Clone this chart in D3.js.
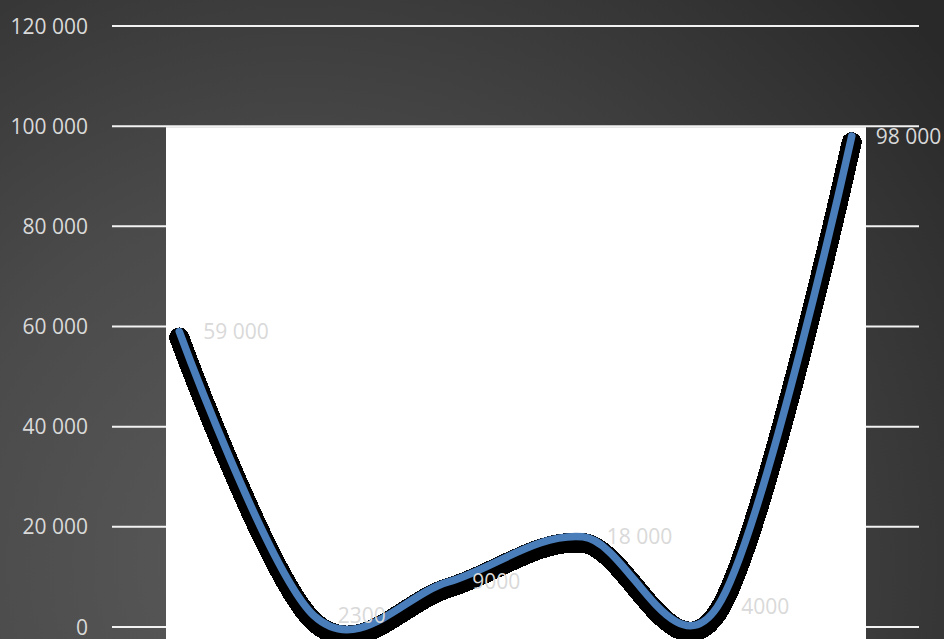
<!DOCTYPE html>
<html>
<head>
<meta charset="utf-8">
<script src="https://cdn.jsdelivr.net/npm/d3@7"></script>
<style>
  html, body { margin: 0; padding: 0; background: #333; }
  svg { display: block; }
</style>
</head>
<body>
<svg id="chart" width="944" height="639"></svg>
<script>
// ---- data ----
const categories = ["1", "2", "3", "4", "5", "6"];
const values = [59000, 2300, 9000, 18000, 4000, 98000];
const valueLabels = ["59 000", "2300", "9000", "18 000", "4000", "98 000"];
const yTicks = [0, 20000, 40000, 60000, 80000, 100000, 120000];
const yTickLabels = ["0", "20 000", "40 000", "60 000", "80 000", "100 000", "120 000"];

// ---- layout ----
const W = 944, H = 639;
const plotLeft = 112, plotRight = 919, plotTop = 26, plotBottom = 627;
const panelLeft = 166, panelRight = 866;
const fontFamily = "'Open Sans', 'DejaVu Sans', sans-serif";
const textColor = "#d9d9d9";

const svg = d3.select("#chart");
const defs = svg.append("defs");
const grad = defs.append("radialGradient")
  .attr("id", "bg").attr("gradientUnits", "userSpaceOnUse")
  .attr("cx", 300).attr("cy", 560).attr("r", 820);
grad.append("stop").attr("offset", "0").attr("stop-color", "#5b5b5b");
grad.append("stop").attr("offset", "0.45").attr("stop-color", "#4a4a4a");
grad.append("stop").attr("offset", "1").attr("stop-color", "#292929");

svg.append("rect").attr("width", W).attr("height", H).attr("fill", "url(#bg)");

const x = d3.scalePoint().domain(categories).range([plotLeft, plotRight]).padding(0.5);
const y = d3.scaleLinear().domain([0, 120000]).range([plotBottom, plotTop]);

// gridlines
svg.append("g").selectAll("line").data(yTicks).join("line")
  .attr("x1", plotLeft).attr("x2", plotRight)
  .attr("y1", d => y(d)).attr("y2", d => y(d))
  .attr("stroke", "#f2f2f2").attr("stroke-width", 2);

// white panel
svg.append("rect")
  .attr("x", panelLeft).attr("y", y(100000) + 1)
  .attr("width", panelRight - panelLeft).attr("height", H - y(100000))
  .attr("fill", "#ffffff");

// y axis labels
svg.append("g").selectAll("text").data(yTicks).join("text")
  .attr("x", 88).attr("y", d => y(d) + 7.5)
  .attr("text-anchor", "end")
  .attr("font-family", fontFamily).attr("font-size", 21)
  .attr("fill", textColor)
  .text((d, i) => yTickLabels[i]);

const pts = categories.map((c, i) => [x(c), y(values[i])]);
const line = d3.line().curve(d3.curveCardinal.tension(0));

// shadow
svg.append("path")
  .attr("d", line(pts))
  .attr("transform", "translate(0,6)")
  .attr("fill", "none").attr("stroke", "#000")
  .attr("stroke-width", 20).attr("stroke-linejoin", "round").attr("stroke-linecap", "round")
  .attr("shape-rendering", "crispEdges");

// line
svg.append("path")
  .attr("d", line(pts))
  .attr("fill", "none").attr("stroke", "#4a7ebb")
  .attr("stroke-width", 7.5).attr("stroke-linecap", "round").attr("stroke-linejoin", "round");

// data labels
svg.append("g").selectAll("text").data(pts).join("text")
  .attr("x", d => d[0] + 24).attr("y", d => d[1] + 7.5)
  .attr("font-family", fontFamily).attr("font-size", 21)
  .attr("fill", textColor)
  .text((d, i) => valueLabels[i]);
</script>
</body>
</html>
